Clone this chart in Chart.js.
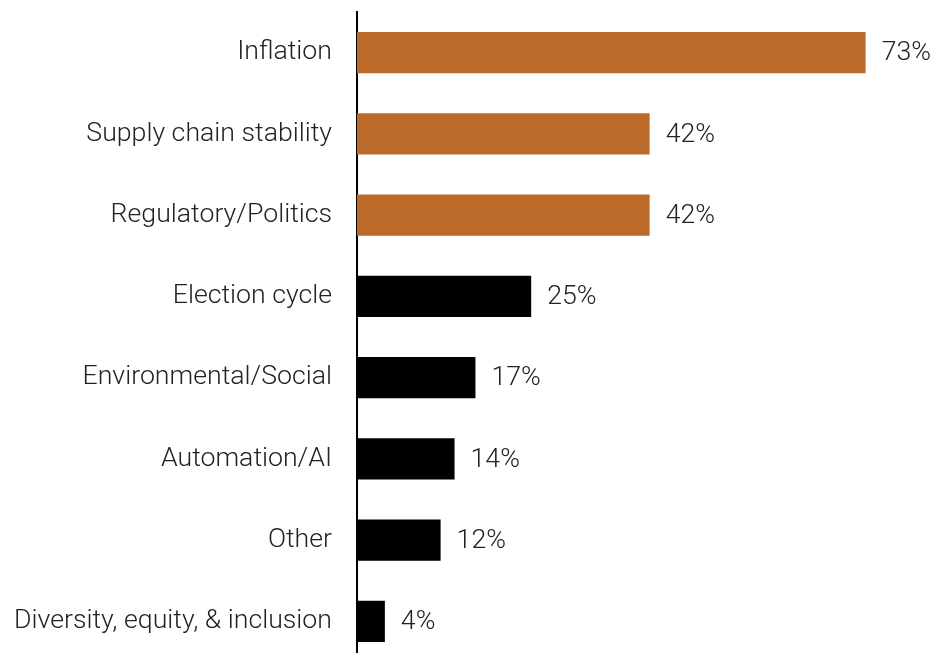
<!DOCTYPE html>
<html lang="en">
<head>
  <meta charset="UTF-8">
  <title>Top concerns</title>
  <script src="https://cdn.jsdelivr.net/npm/chart.js"></script>
  <style>
    html, body { margin: 0; padding: 0; background: #fff; overflow: hidden; }
    #wrap { position: relative; width: 933px; height: 662px; }
  </style>
</head>
<body>
  <div id="wrap"><canvas id="concernsChart"></canvas></div>

<script>
const categories = [
  'Inflation',
  'Supply chain stability',
  'Regulatory/Politics',
  'Election cycle',
  'Environmental/Social',
  'Automation/AI',
  'Other',
  'Diversity, equity, & inclusion'
];
const shares = [73, 42, 42, 25, 17, 14, 12, 4];
const highlighted = [true, true, true, false, false, false, false, false];

const ORANGE = '#bc6a2a';
const BLACK = '#000000';
const TEXT = '#222222';
const FONT = "'Roboto', sans-serif";
const FONT_SIZE = 26.7;

// percentage labels just past the end of each bar
const valueLabels = {
  id: 'valueLabels',
  afterDatasetsDraw(chart) {
    const ctx = chart.ctx;
    const meta = chart.getDatasetMeta(0);
    ctx.save();
    ctx.font = `300 ${FONT_SIZE}px ${FONT}`;
    ctx.fillStyle = TEXT;
    ctx.textAlign = 'left';
    ctx.textBaseline = 'middle';
    meta.data.forEach((bar, i) => {
      ctx.fillText(`${shares[i]}%`, bar.x + 16, bar.y + 1);
    });
    ctx.restore();
  }
};

const ctx = document.getElementById('concernsChart').getContext('2d');
new Chart(ctx, {
  type: 'bar',
  data: {
    labels: categories,
    datasets: [{
      data: shares,
      backgroundColor: highlighted.map(h => h ? ORANGE : BLACK),
      borderWidth: 0,
      categoryPercentage: 1,
      barPercentage: 0.505
    }]
  },
  options: {
    indexAxis: 'y',
    responsive: true,
    maintainAspectRatio: false,
    animation: false,
    layout: { padding: { top: 12, right: 18.6, bottom: 0, left: 0 } },
    plugins: {
      legend: { display: false },
      tooltip: { enabled: false }
    },
    scales: {
      x: {
        display: false,
        min: 0,
        max: 80
      },
      y: {
        afterFit(scale) {
          scale.width = 357;
          scale.paddingTop = 0;
          scale.paddingBottom = 0;
        },
        grid: { display: false, drawTicks: false },
        border: { display: true, color: BLACK, width: 2 },
        ticks: {
          padding: 25,
          color: TEXT,
          font: { family: FONT, size: FONT_SIZE, weight: 300 }
        }
      }
    }
  },
  plugins: [valueLabels]
});
</script>
</body>
</html>
